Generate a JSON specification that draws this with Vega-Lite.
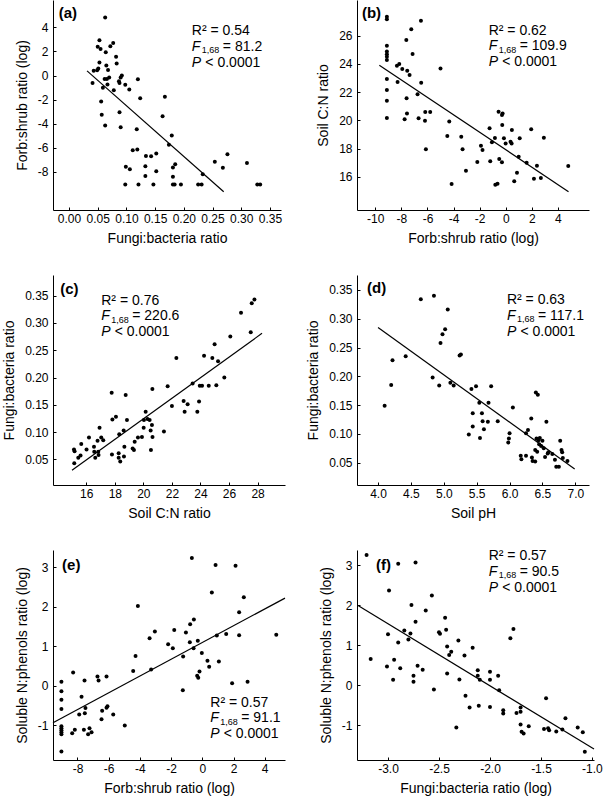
{
  "$schema": "https://vega.github.io/schema/vega-lite/v6.json",
  "padding": {"left": 2, "top": 0, "right": 5, "bottom": 5},
  "datasets": {
    "a": [
      {"x":0.063,"y":4.81},{"x":0.053,"y":2.93},{"x":0.050,"y":2.38},{"x":0.055,"y":2.21},{"x":0.064,"y":1.94},{"x":0.077,"y":2.71},{"x":0.072,"y":2.43},{"x":0.082,"y":1.55},{"x":0.083,"y":1.0},{"x":0.053,"y":1.08},{"x":0.065,"y":0.83},{"x":0.068,"y":0.47},{"x":0.043,"y":0.39},{"x":0.049,"y":0.44},{"x":0.051,"y":0.58},{"x":0.041,"y":-0.61},{"x":0.059,"y":-1.02},{"x":0.062,"y":-0.28},{"x":0.066,"y":-0.28},{"x":0.070,"y":-0.17},{"x":0.067,"y":-0.75},{"x":0.078,"y":-1.22},{"x":0.087,"y":-0.47},{"x":0.090,"y":-0.17},{"x":0.092,"y":0.0},{"x":0.088,"y":-0.61},{"x":0.098,"y":-0.77},{"x":0.105,"y":-1.16},{"x":0.120,"y":-0.30},{"x":0.124,"y":-1.88},{"x":0.056,"y":-2.16},{"x":0.057,"y":-3.26},{"x":0.063,"y":-4.15},{"x":0.088,"y":-3.04},{"x":0.090,"y":-4.29},{"x":0.118,"y":-4.45},{"x":0.167,"y":-1.77},{"x":0.163,"y":-3.37},{"x":0.179,"y":-4.98},{"x":0.174,"y":-5.75},{"x":0.111,"y":-6.20},{"x":0.119,"y":-6.14},{"x":0.134,"y":-6.67},{"x":0.143,"y":-6.69},{"x":0.152,"y":-6.47},{"x":0.099,"y":-7.58},{"x":0.106,"y":-7.77},{"x":0.133,"y":-7.52},{"x":0.133,"y":-8.33},{"x":0.152,"y":-7.94},{"x":0.181,"y":-7.63},{"x":0.185,"y":-7.36},{"x":0.181,"y":-8.41},{"x":0.098,"y":-9.05},{"x":0.121,"y":-9.05},{"x":0.147,"y":-9.05},{"x":0.181,"y":-9.05},{"x":0.184,"y":-9.05},{"x":0.195,"y":-9.05},{"x":0.225,"y":-9.05},{"x":0.231,"y":-9.05},{"x":0.233,"y":-8.19},{"x":0.254,"y":-7.16},{"x":0.268,"y":-7.66},{"x":0.276,"y":-6.53},{"x":0.310,"y":-7.25},{"x":0.328,"y":-9.05},{"x":0.333,"y":-9.05}
    ],
    "b": [
      {"x":-9.11,"y":27.35},{"x":-9.11,"y":27.16},{"x":-9.11,"y":25.29},{"x":-9.11,"y":24.87},{"x":-9.11,"y":24.68},{"x":-9.11,"y":24.51},{"x":-9.11,"y":24.27},{"x":-9.11,"y":22.93},{"x":-9.11,"y":22.15},{"x":-9.11,"y":21.39},{"x":-9.11,"y":20.16},
      {"x":-8.34,"y":23.87},{"x":-8.16,"y":23.99},{"x":-8.29,"y":22.71},{"x":-7.93,"y":23.64},{"x":-7.75,"y":20.07},{"x":-7.62,"y":25.69},{"x":-7.60,"y":21.56},{"x":-7.55,"y":23.52},{"x":-7.57,"y":20.49},{"x":-7.37,"y":23.21},{"x":-7.24,"y":26.45},{"x":-7.14,"y":24.70},{"x":-6.76,"y":21.84},{"x":-6.68,"y":20.14},{"x":-6.50,"y":27.06},{"x":-6.48,"y":22.67},{"x":-6.17,"y":20.59},{"x":-6.19,"y":19.97},{"x":-6.12,"y":17.94},{"x":-5.79,"y":20.59},{"x":-5.0,"y":23.68},{"x":-4.33,"y":19.92},{"x":-4.48,"y":18.88},{"x":-4.15,"y":15.48},{"x":-3.41,"y":18.84},{"x":-3.31,"y":17.94},{"x":-3.05,"y":16.43},{"x":-2.18,"y":17.04},{"x":-1.90,"y":18.20},{"x":-1.78,"y":17.89},{"x":-1.24,"y":19.43},{"x":-1.19,"y":17.09},{"x":-1.06,"y":18.44},{"x":-0.83,"y":18.74},{"x":-0.80,"y":15.43},{"x":-0.63,"y":15.50},{"x":-0.55,"y":20.61},{"x":-0.50,"y":17.25},{"x":-0.29,"y":20.37},{"x":-0.24,"y":20.49},{"x":-0.27,"y":19.66},{"x":-0.29,"y":17.02},{"x":-0.14,"y":18.72},{"x":-0.01,"y":18.36},{"x":0.37,"y":18.48},{"x":0.45,"y":18.36},{"x":0.47,"y":19.31},{"x":0.65,"y":15.67},{"x":0.86,"y":16.28},{"x":0.99,"y":17.42},{"x":1.07,"y":18.72},{"x":1.60,"y":16.99},{"x":1.95,"y":19.36},{"x":2.16,"y":15.86},{"x":2.39,"y":16.78},{"x":2.69,"y":15.91},{"x":2.92,"y":18.77},{"x":4.79,"y":16.76}
    ],
    "c": [
      {"x":15.14,"y":0.068},{"x":15.18,"y":0.065},{"x":15.16,"y":0.043},{"x":15.44,"y":0.053},{"x":15.60,"y":0.057},{"x":15.65,"y":0.078},{"x":16.02,"y":0.068},{"x":16.19,"y":0.090},{"x":16.54,"y":0.073},{"x":16.56,"y":0.064},{"x":16.63,"y":0.053},{"x":16.79,"y":0.084},{"x":16.84,"y":0.064},{"x":16.86,"y":0.058},{"x":16.93,"y":0.108},{"x":17.05,"y":0.090},{"x":17.19,"y":0.085},{"x":17.78,"y":0.172},{"x":17.83,"y":0.123},{"x":17.80,"y":0.059},{"x":18.08,"y":0.128},{"x":18.27,"y":0.061},{"x":18.27,"y":0.053},{"x":18.38,"y":0.046},{"x":18.31,"y":0.096},{"x":18.62,"y":0.103},{"x":18.64,"y":0.055},{"x":18.67,"y":0.073},{"x":18.76,"y":0.168},{"x":18.85,"y":0.122},{"x":19.25,"y":0.070},{"x":19.34,"y":0.067},{"x":19.39,"y":0.082},{"x":19.62,"y":0.090},{"x":19.90,"y":0.091},{"x":20.02,"y":0.108},{"x":20.04,"y":0.122},{"x":20.16,"y":0.137},{"x":20.29,"y":0.124},{"x":20.44,"y":0.122},{"x":20.51,"y":0.103},{"x":20.53,"y":0.067},{"x":20.60,"y":0.113},{"x":20.64,"y":0.091},{"x":20.63,"y":0.179},{"x":21.44,"y":0.101},{"x":21.70,"y":0.184},{"x":22.0,"y":0.148},{"x":22.31,"y":0.236},{"x":22.82,"y":0.157},{"x":22.89,"y":0.137},{"x":23.10,"y":0.151},{"x":23.45,"y":0.189},{"x":23.78,"y":0.137},{"x":23.90,"y":0.156},{"x":23.95,"y":0.185},{"x":24.11,"y":0.185},{"x":24.25,"y":0.240},{"x":24.58,"y":0.185},{"x":24.83,"y":0.236},{"x":24.99,"y":0.261},{"x":25.11,"y":0.186},{"x":25.23,"y":0.230},{"x":25.67,"y":0.200},{"x":26.09,"y":0.275},{"x":26.84,"y":0.319},{"x":27.52,"y":0.283},{"x":27.59,"y":0.336},{"x":27.78,"y":0.343}
    ],
    "d": [
      {"x":4.10,"y":0.149},{"x":4.20,"y":0.185},{"x":4.22,"y":0.228},{"x":4.42,"y":0.235},{"x":4.65,"y":0.334},{"x":4.85,"y":0.340},{"x":4.83,"y":0.198},{"x":4.93,"y":0.184},{"x":4.95,"y":0.258},{"x":4.98,"y":0.273},{"x":5.02,"y":0.282},{"x":5.06,"y":0.316},{"x":5.10,"y":0.189},{"x":5.15,"y":0.184},{"x":5.24,"y":0.236},{"x":5.26,"y":0.238},{"x":5.38,"y":0.099},{"x":5.42,"y":0.178},{"x":5.44,"y":0.136},{"x":5.44,"y":0.113},{"x":5.49,"y":0.183},{"x":5.54,"y":0.154},{"x":5.55,"y":0.093},{"x":5.58,"y":0.136},{"x":5.59,"y":0.122},{"x":5.61,"y":0.108},{"x":5.67,"y":0.121},{"x":5.68,"y":0.154},{"x":5.72,"y":0.183},{"x":5.82,"y":0.122},{"x":5.98,"y":0.085},{"x":5.99,"y":0.092},{"x":6.0,"y":0.101},{"x":6.05,"y":0.146},{"x":6.17,"y":0.062},{"x":6.18,"y":0.056},{"x":6.25,"y":0.062},{"x":6.28,"y":0.107},{"x":6.25,"y":0.101},{"x":6.33,"y":0.127},{"x":6.34,"y":0.059},{"x":6.35,"y":0.053},{"x":6.39,"y":0.052},{"x":6.39,"y":0.072},{"x":6.40,"y":0.172},{"x":6.43,"y":0.168},{"x":6.41,"y":0.092},{"x":6.44,"y":0.089},{"x":6.42,"y":0.069},{"x":6.46,"y":0.093},{"x":6.45,"y":0.082},{"x":6.50,"y":0.088},{"x":6.48,"y":0.079},{"x":6.52,"y":0.075},{"x":6.54,"y":0.060},{"x":6.56,"y":0.121},{"x":6.58,"y":0.066},{"x":6.59,"y":0.068},{"x":6.65,"y":0.065},{"x":6.69,"y":0.055},{"x":6.71,"y":0.043},{"x":6.75,"y":0.043},{"x":6.77,"y":0.088},{"x":6.79,"y":0.072},{"x":6.80,"y":0.068},{"x":6.81,"y":0.058},{"x":6.88,"y":0.053}
    ],
    "e": [
      {"x":-9.03,"y":0.10},{"x":-9.03,"y":-0.14},{"x":-9.03,"y":-0.36},{"x":-9.03,"y":-0.59},{"x":-9.03,"y":-1.03},{"x":-9.03,"y":-1.08},{"x":-9.03,"y":-1.13},{"x":-9.03,"y":-1.18},{"x":-9.03,"y":-1.23},{"x":-9.03,"y":-1.67},
      {"x":-8.28,"y":0.33},{"x":-8.34,"y":-1.21},{"x":-8.17,"y":-1.12},{"x":-7.89,"y":-0.73},{"x":-7.74,"y":-0.28},{"x":-7.55,"y":0.13},{"x":-7.53,"y":-0.70},{"x":-7.49,"y":-0.57},{"x":-7.59,"y":-1.12},{"x":-7.32,"y":-1.23},{"x":-7.23,"y":-1.08},{"x":-7.10,"y":-1.18},{"x":-6.72,"y":0.23},{"x":-6.65,"y":0.13},{"x":-6.46,"y":-0.85},{"x":-6.42,"y":-0.64},{"x":-6.14,"y":0.23},{"x":-6.14,"y":-0.56},{"x":-6.08,"y":-0.52},{"x":-5.71,"y":-0.73},{"x":-4.97,"y":-1.01},{"x":-4.43,"y":0.37},{"x":-4.28,"y":0.75},{"x":-4.13,"y":2.02},{"x":-3.38,"y":1.20},{"x":-3.28,"y":0.41},{"x":-3.04,"y":1.37},{"x":-2.19,"y":1.05},{"x":-1.89,"y":0.95},{"x":-1.80,"y":1.41},{"x":-1.25,"y":-0.12},{"x":-1.23,"y":0.74},{"x":-1.05,"y":1.35},{"x":-0.80,"y":1.10},{"x":-0.78,"y":1.56},{"x":-0.67,"y":3.24},{"x":-0.56,"y":0.95},{"x":-0.54,"y":1.68},{"x":-0.33,"y":0.25},{"x":-0.29,"y":1.14},{"x":-0.26,"y":0.20},{"x":-0.18,"y":0.36},{"x":-0.03,"y":0.83},{"x":0.33,"y":0.63},{"x":0.44,"y":0.48},{"x":0.61,"y":2.36},{"x":0.85,"y":3.06},{"x":0.93,"y":1.27},{"x":1.06,"y":0.61},{"x":1.53,"y":1.31},{"x":1.91,"y":0.06},{"x":2.13,"y":3.04},{"x":2.36,"y":1.86},{"x":2.36,"y":1.28},{"x":2.66,"y":2.24},{"x":2.90,"y":0.10},{"x":4.74,"y":1.29}
    ],
    "f": [
      {"x":-3.21,"y":3.25},{"x":-3.17,"y":0.65},{"x":-3.0,"y":1.27},{"x":-2.99,"y":2.36},{"x":-3.01,"y":0.46},{"x":-2.95,"y":0.13},{"x":-2.94,"y":0.63},{"x":-2.90,"y":3.03},{"x":-2.90,"y":1.06},{"x":-2.88,"y":0.42},{"x":-2.84,"y":1.36},{"x":-2.80,"y":1.14},{"x":-2.78,"y":1.29},{"x":-2.77,"y":2.0},{"x":-2.75,"y":0.08},{"x":-2.75,"y":0.23},{"x":-2.73,"y":3.06},{"x":-2.73,"y":1.58},{"x":-2.71,"y":0.48},{"x":-2.66,"y":0.38},{"x":-2.63,"y":1.86},{"x":-2.57,"y":2.24},{"x":-2.55,"y":-0.11},{"x":-2.50,"y":1.32},{"x":-2.49,"y":1.28},{"x":-2.44,"y":1.68},{"x":-2.43,"y":1.38},{"x":-2.42,"y":0.29},{"x":-2.42,"y":0.96},{"x":-2.40,"y":0.75},{"x":-2.38,"y":0.83},{"x":-2.33,"y":-1.06},{"x":-2.31,"y":1.11},{"x":-2.30,"y":0.14},{"x":-2.25,"y":0.74},{"x":-2.24,"y":-0.27},{"x":-2.20,"y":-0.56},{"x":-2.17,"y":0.93},{"x":-2.12,"y":0.37},{"x":-2.12,"y":0.23},{"x":-2.11,"y":-0.52},{"x":-2.10,"y":0.13},{"x":-2.0,"y":0.33},{"x":-2.0,"y":0.13},{"x":-2.0,"y":-0.55},{"x":-1.92,"y":0.23},{"x":-1.91,"y":-0.13},{"x":-1.87,"y":-0.71},{"x":-1.87,"y":-0.63},{"x":-1.80,"y":1.17},{"x":-1.77,"y":1.40},{"x":-1.74,"y":-0.70},{"x":-1.70,"y":-0.56},{"x":-1.70,"y":-0.67},{"x":-1.70,"y":-0.99},{"x":-1.69,"y":-1.17},{"x":-1.67,"y":-1.21},{"x":-1.62,"y":-1.03},{"x":-1.47,"y":-1.10},{"x":-1.45,"y":-0.33},{"x":-1.43,"y":-1.08},{"x":-1.42,"y":-1.13},{"x":-1.35,"y":-1.16},{"x":-1.29,"y":-1.11},{"x":-1.26,"y":-0.83},{"x":-1.14,"y":-1.06},{"x":-1.09,"y":-1.18},{"x":-1.07,"y":-1.67}
    ]
  },
  "concat": [
    {
      "width": 228, "height": 210,
      "encoding": {
        "x": {"field": "x", "type": "quantitative", "scale": {"domain": [-0.0279, 0.3693], "nice": false, "zero": false}, "axis": {"title": "Fungi:bacteria ratio", "values": [0, 0.05, 0.1, 0.15, 0.2, 0.25, 0.3, 0.35], "format": ".2f"}},
        "y": {"field": "y", "type": "quantitative", "scale": {"domain": [-11.16, 6.27], "nice": false, "zero": false}, "axis": {"title": "Forb:shrub ratio (log)", "values": [-8, -6, -4, -2, 0, 2, 4], "format": "d"}}
      },
      "layer": [
        {"data": {"name": "a"}, "mark": {"type": "circle", "size": 16, "color": "black", "opacity": 1}},
        {"data": {"values": [{"x": 0.0314, "y": 0.39, "x2": 0.2695, "y2": -9.65}]}, "mark": {"type": "rule", "color": "black", "strokeWidth": 1.2}, "encoding": {"x2": {"field": "x2"}, "y2": {"field": "y2"}}},
        {"data": {"values": [{"x": -0.018, "y": 4.75, "t": "(a)"}]}, "mark": {"type": "text", "fontSize": 15, "fontWeight": "bold", "align": "left", "baseline": "alphabetic"}, "encoding": {"text": {"field": "t"}}},
        {"data": {"values": [{"x": 0.214, "y": 3.36, "r2": "R² = 0.54", "fv": "= 81.2"}]},
          "layer": [
            {"mark": {"type": "text", "fontSize": 14, "align": "left", "baseline": "alphabetic"}, "encoding": {"text": {"field": "r2"}}},
            {"mark": {"type": "text", "fontSize": 14, "fontStyle": "italic", "align": "left", "baseline": "alphabetic", "dy": 15.5}, "encoding": {"text": {"value": "F"}}},
            {"mark": {"type": "text", "fontSize": 9, "align": "left", "baseline": "alphabetic", "dx": 10, "dy": 18}, "encoding": {"text": {"value": "1,68"}}},
            {"mark": {"type": "text", "fontSize": 14, "align": "left", "baseline": "alphabetic", "dx": 31, "dy": 15.5}, "encoding": {"text": {"field": "fv"}}},
            {"mark": {"type": "text", "fontSize": 14, "fontStyle": "italic", "align": "left", "baseline": "alphabetic", "dy": 31.5}, "encoding": {"text": {"value": "P"}}},
            {"mark": {"type": "text", "fontSize": 14, "align": "left", "baseline": "alphabetic", "dx": 13.5, "dy": 31.5}, "encoding": {"text": {"value": "< 0.0001"}}}
          ]
        }
      ]
    },
    {
      "width": 232, "height": 210,
      "encoding": {
        "x": {"field": "x", "type": "quantitative", "scale": {"domain": [-11.4, 6.38], "nice": false, "zero": false}, "axis": {"title": "Forb:shrub ratio (log)", "values": [-10, -8, -6, -4, -2, 0, 2, 4], "format": "d"}},
        "y": {"field": "y", "type": "quantitative", "scale": {"domain": [13.64, 28.53], "nice": false, "zero": false}, "axis": {"title": "Soil C:N ratio", "values": [16, 18, 20, 22, 24, 26], "format": "d"}}
      },
      "layer": [
        {"data": {"name": "b"}, "mark": {"type": "circle", "size": 16, "color": "black", "opacity": 1}},
        {"data": {"values": [{"x": -9.69, "y": 23.9, "x2": 4.81, "y2": 14.94}]}, "mark": {"type": "rule", "color": "black", "strokeWidth": 1.2}, "encoding": {"x2": {"field": "x2"}, "y2": {"field": "y2"}}},
        {"data": {"values": [{"x": -11.02, "y": 27.23, "t": "(b)"}]}, "mark": {"type": "text", "fontSize": 15, "fontWeight": "bold", "align": "left", "baseline": "alphabetic"}, "encoding": {"text": {"field": "t"}}},
        {"data": {"values": [{"x": -1.31, "y": 26.05, "r2": "R² = 0.62", "fv": "= 109.9"}]},
          "layer": [
            {"mark": {"type": "text", "fontSize": 14, "align": "left", "baseline": "alphabetic"}, "encoding": {"text": {"field": "r2"}}},
            {"mark": {"type": "text", "fontSize": 14, "fontStyle": "italic", "align": "left", "baseline": "alphabetic", "dy": 15.5}, "encoding": {"text": {"value": "F"}}},
            {"mark": {"type": "text", "fontSize": 9, "align": "left", "baseline": "alphabetic", "dx": 10, "dy": 18}, "encoding": {"text": {"value": "1,68"}}},
            {"mark": {"type": "text", "fontSize": 14, "align": "left", "baseline": "alphabetic", "dx": 31, "dy": 15.5}, "encoding": {"text": {"field": "fv"}}},
            {"mark": {"type": "text", "fontSize": 14, "fontStyle": "italic", "align": "left", "baseline": "alphabetic", "dy": 31.5}, "encoding": {"text": {"value": "P"}}},
            {"mark": {"type": "text", "fontSize": 14, "align": "left", "baseline": "alphabetic", "dx": 13.5, "dy": 31.5}, "encoding": {"text": {"value": "< 0.0001"}}}
          ]
        }
      ]
    },
    {
      "width": 232, "height": 210,
      "encoding": {
        "x": {"field": "x", "type": "quantitative", "scale": {"domain": [13.67, 29.92], "nice": false, "zero": false}, "axis": {"title": "Soil C:N ratio", "values": [16, 18, 20, 22, 24, 26, 28], "format": "d"}},
        "y": {"field": "y", "type": "quantitative", "scale": {"domain": [0.0029, 0.388], "nice": false, "zero": false}, "axis": {"title": "Fungi:bacteria ratio", "values": [0.05, 0.1, 0.15, 0.2, 0.25, 0.3, 0.35], "format": ".2f"}}
      },
      "layer": [
        {"data": {"name": "c"}, "mark": {"type": "circle", "size": 16, "color": "black", "opacity": 1}},
        {"data": {"values": [{"x": 15.0, "y": 0.03, "x2": 28.31, "y2": 0.281}]}, "mark": {"type": "rule", "color": "black", "strokeWidth": 1.2}, "encoding": {"x2": {"field": "x2"}, "y2": {"field": "y2"}}},
        {"data": {"values": [{"x": 14.18, "y": 0.354, "t": "(c)"}]}, "mark": {"type": "text", "fontSize": 15, "fontWeight": "bold", "align": "left", "baseline": "alphabetic"}, "encoding": {"text": {"field": "t"}}},
        {"data": {"values": [{"x": 17.05, "y": 0.333, "r2": "R² = 0.76", "fv": "= 220.6"}]},
          "layer": [
            {"mark": {"type": "text", "fontSize": 14, "align": "left", "baseline": "alphabetic"}, "encoding": {"text": {"field": "r2"}}},
            {"mark": {"type": "text", "fontSize": 14, "fontStyle": "italic", "align": "left", "baseline": "alphabetic", "dy": 15.5}, "encoding": {"text": {"value": "F"}}},
            {"mark": {"type": "text", "fontSize": 9, "align": "left", "baseline": "alphabetic", "dx": 10, "dy": 18}, "encoding": {"text": {"value": "1,68"}}},
            {"mark": {"type": "text", "fontSize": 14, "align": "left", "baseline": "alphabetic", "dx": 31, "dy": 15.5}, "encoding": {"text": {"field": "fv"}}},
            {"mark": {"type": "text", "fontSize": 14, "fontStyle": "italic", "align": "left", "baseline": "alphabetic", "dy": 31.5}, "encoding": {"text": {"value": "P"}}},
            {"mark": {"type": "text", "fontSize": 14, "align": "left", "baseline": "alphabetic", "dx": 13.5, "dy": 31.5}, "encoding": {"text": {"value": "< 0.0001"}}}
          ]
        }
      ]
    },
    {
      "width": 232, "height": 210,
      "encoding": {
        "x": {"field": "x", "type": "quantitative", "scale": {"domain": [3.68, 7.208], "nice": false, "zero": false}, "axis": {"title": "Soil pH", "values": [4, 4.5, 5, 5.5, 6, 6.5, 7], "format": ".1f"}},
        "y": {"field": "y", "type": "quantitative", "scale": {"domain": [0.0113, 0.376], "nice": false, "zero": false}, "axis": {"title": "Fungi:bacteria ratio", "values": [0.05, 0.1, 0.15, 0.2, 0.25, 0.3, 0.35], "format": ".2f"}}
      },
      "layer": [
        {"data": {"name": "d"}, "mark": {"type": "circle", "size": 16, "color": "black", "opacity": 1}},
        {"data": {"values": [{"x": 4.0, "y": 0.285, "x2": 6.99, "y2": 0.039}]}, "mark": {"type": "rule", "color": "black", "strokeWidth": 1.2}, "encoding": {"x2": {"field": "x2"}, "y2": {"field": "y2"}}},
        {"data": {"values": [{"x": 3.833, "y": 0.344, "t": "(d)"}]}, "mark": {"type": "text", "fontSize": 15, "fontWeight": "bold", "align": "left", "baseline": "alphabetic"}, "encoding": {"text": {"field": "t"}}},
        {"data": {"values": [{"x": 5.96, "y": 0.325, "r2": "R² = 0.63", "fv": "= 117.1"}]},
          "layer": [
            {"mark": {"type": "text", "fontSize": 14, "align": "left", "baseline": "alphabetic"}, "encoding": {"text": {"field": "r2"}}},
            {"mark": {"type": "text", "fontSize": 14, "fontStyle": "italic", "align": "left", "baseline": "alphabetic", "dy": 15.5}, "encoding": {"text": {"value": "F"}}},
            {"mark": {"type": "text", "fontSize": 9, "align": "left", "baseline": "alphabetic", "dx": 10, "dy": 18}, "encoding": {"text": {"value": "1,68"}}},
            {"mark": {"type": "text", "fontSize": 14, "align": "left", "baseline": "alphabetic", "dx": 31, "dy": 15.5}, "encoding": {"text": {"field": "fv"}}},
            {"mark": {"type": "text", "fontSize": 14, "fontStyle": "italic", "align": "left", "baseline": "alphabetic", "dy": 31.5}, "encoding": {"text": {"value": "P"}}},
            {"mark": {"type": "text", "fontSize": 14, "align": "left", "baseline": "alphabetic", "dx": 13.5, "dy": 31.5}, "encoding": {"text": {"value": "< 0.0001"}}}
          ]
        }
      ]
    },
    {
      "width": 232, "height": 210,
      "encoding": {
        "x": {"field": "x", "type": "quantitative", "scale": {"domain": [-9.57, 5.3], "nice": false, "zero": false}, "axis": {"title": "Forb:shrub ratio (log)", "values": [-8, -6, -4, -2, 0, 2, 4], "format": "d"}},
        "y": {"field": "y", "type": "quantitative", "scale": {"domain": [-1.886, 3.44], "nice": false, "zero": false}, "axis": {"title": "Soluble N:phenols ratio (log)", "values": [-1, 0, 1, 2, 3], "format": "d"}}
      },
      "layer": [
        {"data": {"name": "e"}, "mark": {"type": "circle", "size": 16, "color": "black", "opacity": 1}},
        {"data": {"values": [{"x": -9.57, "y": -0.94, "x2": 5.3, "y2": 2.22}]}, "mark": {"type": "rule", "color": "black", "strokeWidth": 1.2}, "encoding": {"x2": {"field": "x2"}, "y2": {"field": "y2"}}},
        {"data": {"values": [{"x": -8.99, "y": 2.94, "t": "(e)"}]}, "mark": {"type": "text", "fontSize": 15, "fontWeight": "bold", "align": "left", "baseline": "alphabetic"}, "encoding": {"text": {"field": "t"}}},
        {"data": {"values": [{"x": 0.51, "y": -0.53, "r2": "R² = 0.57", "fv": "= 91.1"}]},
          "layer": [
            {"mark": {"type": "text", "fontSize": 14, "align": "left", "baseline": "alphabetic"}, "encoding": {"text": {"field": "r2"}}},
            {"mark": {"type": "text", "fontSize": 14, "fontStyle": "italic", "align": "left", "baseline": "alphabetic", "dy": 15.5}, "encoding": {"text": {"value": "F"}}},
            {"mark": {"type": "text", "fontSize": 9, "align": "left", "baseline": "alphabetic", "dx": 10, "dy": 18}, "encoding": {"text": {"value": "1,68"}}},
            {"mark": {"type": "text", "fontSize": 14, "align": "left", "baseline": "alphabetic", "dx": 31, "dy": 15.5}, "encoding": {"text": {"field": "fv"}}},
            {"mark": {"type": "text", "fontSize": 14, "fontStyle": "italic", "align": "left", "baseline": "alphabetic", "dy": 31.5}, "encoding": {"text": {"value": "P"}}},
            {"mark": {"type": "text", "fontSize": 14, "align": "left", "baseline": "alphabetic", "dx": 13.5, "dy": 31.5}, "encoding": {"text": {"value": "< 0.0001"}}}
          ]
        }
      ]
    },
    {
      "width": 237, "height": 210,
      "encoding": {
        "x": {"field": "x", "type": "quantitative", "scale": {"domain": [-3.304, -0.98], "nice": false, "zero": false}, "axis": {"title": "Fungi:bacteria ratio (log)", "values": [-3, -2.5, -2, -1.5, -1], "format": ".1f"}},
        "y": {"field": "y", "type": "quantitative", "scale": {"domain": [-1.875, 3.375], "nice": false, "zero": false}, "axis": {"title": "Soluble N:phenols ratio (log)", "values": [-1, 0, 1, 2, 3], "format": "d"}}
      },
      "layer": [
        {"data": {"name": "f"}, "mark": {"type": "circle", "size": 16, "color": "black", "opacity": 1}},
        {"data": {"values": [{"x": -3.29, "y": 1.98, "x2": -0.98, "y2": -1.6}]}, "mark": {"type": "rule", "color": "black", "strokeWidth": 1.2}, "encoding": {"x2": {"field": "x2"}, "y2": {"field": "y2"}}},
        {"data": {"values": [{"x": -3.118, "y": 2.875, "t": "(f)"}]}, "mark": {"type": "text", "fontSize": 15, "fontWeight": "bold", "align": "left", "baseline": "alphabetic"}, "encoding": {"text": {"field": "t"}}},
        {"data": {"values": [{"x": -2.013, "y": 3.125, "r2": "R² = 0.57", "fv": "= 90.5"}]},
          "layer": [
            {"mark": {"type": "text", "fontSize": 14, "align": "left", "baseline": "alphabetic"}, "encoding": {"text": {"field": "r2"}}},
            {"mark": {"type": "text", "fontSize": 14, "fontStyle": "italic", "align": "left", "baseline": "alphabetic", "dy": 15.5}, "encoding": {"text": {"value": "F"}}},
            {"mark": {"type": "text", "fontSize": 9, "align": "left", "baseline": "alphabetic", "dx": 10, "dy": 18}, "encoding": {"text": {"value": "1,68"}}},
            {"mark": {"type": "text", "fontSize": 14, "align": "left", "baseline": "alphabetic", "dx": 31, "dy": 15.5}, "encoding": {"text": {"field": "fv"}}},
            {"mark": {"type": "text", "fontSize": 14, "fontStyle": "italic", "align": "left", "baseline": "alphabetic", "dy": 31.5}, "encoding": {"text": {"value": "P"}}},
            {"mark": {"type": "text", "fontSize": 14, "align": "left", "baseline": "alphabetic", "dx": 13.5, "dy": 31.5}, "encoding": {"text": {"value": "< 0.0001"}}}
          ]
        }
      ]
    }
  ],
  "columns": 2,
  "spacing": {"row": 65, "column": 72},
  "bounds": "flush",
  "config": {
    "font": "Liberation Sans",
    "view": {"stroke": null},
    "locale": {"number": {"decimal": ".", "thousands": ",", "grouping": [3], "currency": ["", ""], "minus": "-"}},
    "axis": {"grid": false, "domainColor": "black", "domainWidth": 1, "tickColor": "black", "tickSize": -3, "tickWidth": 1, "labelColor": "black", "labelFontSize": 12, "labelFont": "Liberation Sans", "titleFont": "Liberation Sans", "titleFontSize": 14, "titleFontWeight": "normal", "titleColor": "black", "labelOverlap": false, "labelFlush": false},
    "axisX": {"labelPadding": 6, "titlePadding": 7},
    "axisY": {"labelPadding": 8, "titlePadding": 8},
    "text": {"font": "Liberation Sans", "color": "black"}
  }
}
